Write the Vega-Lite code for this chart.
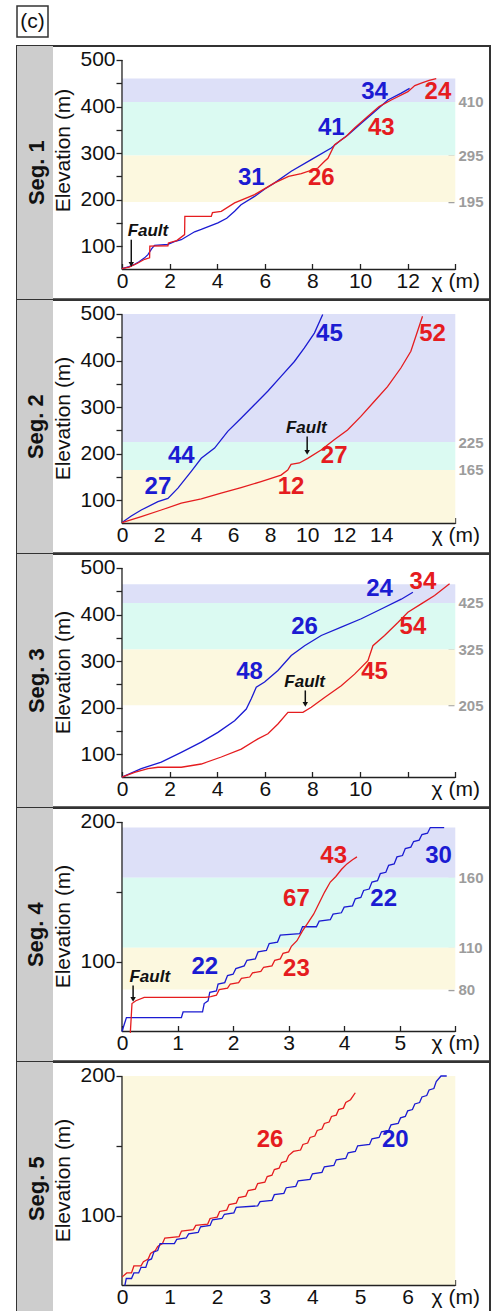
{
"$schema": "https://vega.github.io/schema/vega-lite/v6.json",
"padding": {"left": 16, "top": 5, "right": 0, "bottom": 0},
"config": {"view": {"stroke": null}, "font": "Liberation Sans", "text": {"font": "Liberation Sans"}},
"bounds": "flush",
"spacing": 9,
"datasets": {
"lines1": [
{"x":0.0,"y":52,"s":"A"},{"x":0.3,"y":56,"s":"A"},{"x":0.53,"y":61,"s":"A"},{"x":0.7,"y":66,"s":"A"},{"x":0.95,"y":75,"s":"A"},{"x":1.09,"y":82,"s":"A"},{"x":1.25,"y":95,"s":"A"},{"x":1.37,"y":102,"s":"A"},{"x":1.93,"y":104,"s":"A"},{"x":2.2,"y":110,"s":"A"},{"x":2.49,"y":114,"s":"A"},{"x":3.05,"y":131,"s":"A"},{"x":3.33,"y":136,"s":"A"},{"x":4.03,"y":150,"s":"A"},{"x":4.4,"y":160,"s":"A"},{"x":4.73,"y":175,"s":"A"},{"x":5.0,"y":189,"s":"A"},{"x":5.57,"y":207,"s":"A"},{"x":6.0,"y":223,"s":"A"},{"x":6.41,"y":236,"s":"A"},{"x":7.11,"y":261,"s":"A"},{"x":7.95,"y":286,"s":"A"},{"x":8.79,"y":311,"s":"A"},{"x":9.2,"y":328,"s":"A"},{"x":9.49,"y":339,"s":"A"},{"x":10.05,"y":364,"s":"A"},{"x":10.61,"y":389,"s":"A"},{"x":11.17,"y":414,"s":"A"},{"x":11.73,"y":429,"s":"A"},{"x":12.08,"y":439,"s":"A"},
{"x":0.0,"y":52,"s":"B"},{"x":0.3,"y":55,"s":"B"},{"x":0.67,"y":64,"s":"B"},{"x":0.95,"y":72,"s":"B"},{"x":1.16,"y":75,"s":"B"},{"x":1.17,"y":100,"s":"B"},{"x":1.93,"y":101,"s":"B"},{"x":1.95,"y":107,"s":"B"},{"x":2.3,"y":112,"s":"B"},{"x":2.63,"y":125,"s":"B"},{"x":2.64,"y":164,"s":"B"},{"x":3.75,"y":164,"s":"B"},{"x":3.8,"y":172,"s":"B"},{"x":4.17,"y":175,"s":"B"},{"x":4.73,"y":193,"s":"B"},{"x":5.57,"y":211,"s":"B"},{"x":6.41,"y":236,"s":"B"},{"x":7.0,"y":250,"s":"B"},{"x":7.53,"y":256,"s":"B"},{"x":8.23,"y":268,"s":"B"},{"x":8.5,"y":282,"s":"B"},{"x":8.65,"y":289,"s":"B"},{"x":8.93,"y":318,"s":"B"},{"x":9.4,"y":335,"s":"B"},{"x":9.77,"y":354,"s":"B"},{"x":10.33,"y":379,"s":"B"},{"x":10.8,"y":400,"s":"B"},{"x":11.31,"y":414,"s":"B"},{"x":12.01,"y":432,"s":"B"},{"x":12.3,"y":445,"s":"B"},{"x":12.6,"y":451,"s":"B"},{"x":12.9,"y":456,"s":"B"},{"x":13.2,"y":460,"s":"B"}],
"labels1": [{"x":10.61,"y":432,"t":"34","s":"A"},{"x":13.27,"y":432,"t":"24","s":"B"},{"x":8.79,"y":354,"t":"41","s":"A"},{"x":10.89,"y":354,"t":"43","s":"B"},{"x":5.43,"y":246,"t":"31","s":"A"},{"x":8.37,"y":246,"t":"26","s":"B"}],
"bands1": [{"lo":410,"hi":460,"zone":"upper"},{"lo":295,"hi":410,"zone":"middle"},{"lo":195,"hi":295,"zone":"lower"}],
"fault1": [{"tx":1.09,"ty":132,"ax":0.39,"ya":114,"yb":61}],
"lines2": [
{"x":0.0,"y":52,"s":"A"},{"x":0.5,"y":66,"s":"A"},{"x":1.04,"y":79,"s":"A"},{"x":1.94,"y":97,"s":"A"},{"x":2.48,"y":104,"s":"A"},{"x":3.02,"y":126,"s":"A"},{"x":3.74,"y":162,"s":"A"},{"x":4.28,"y":190,"s":"A"},{"x":5.0,"y":212,"s":"A"},{"x":5.71,"y":248,"s":"A"},{"x":6.43,"y":276,"s":"A"},{"x":7.15,"y":305,"s":"A"},{"x":7.87,"y":334,"s":"A"},{"x":8.59,"y":366,"s":"A"},{"x":9.31,"y":398,"s":"A"},{"x":9.85,"y":427,"s":"A"},{"x":10.39,"y":459,"s":"A"},{"x":10.84,"y":499,"s":"A"},
{"x":0.0,"y":52,"s":"B"},{"x":1.04,"y":65,"s":"B"},{"x":2.12,"y":79,"s":"B"},{"x":3.2,"y":94,"s":"B"},{"x":4.28,"y":103,"s":"B"},{"x":5.35,"y":115,"s":"B"},{"x":6.43,"y":127,"s":"B"},{"x":7.51,"y":140,"s":"B"},{"x":8.59,"y":154,"s":"B"},{"x":8.95,"y":165,"s":"B"},{"x":9.13,"y":177,"s":"B"},{"x":9.58,"y":180,"s":"B"},{"x":10.03,"y":190,"s":"B"},{"x":10.75,"y":208,"s":"B"},{"x":11.46,"y":230,"s":"B"},{"x":12.18,"y":251,"s":"B"},{"x":12.9,"y":280,"s":"B"},{"x":13.62,"y":312,"s":"B"},{"x":14.34,"y":344,"s":"B"},{"x":15.06,"y":384,"s":"B"},{"x":15.6,"y":420,"s":"B"},{"x":15.96,"y":463,"s":"B"},{"x":16.23,"y":495,"s":"B"}],
"labels2": [{"x":11.2,"y":456,"t":"45","s":"A"},{"x":16.77,"y":456,"t":"52","s":"B"},{"x":3.2,"y":194,"t":"44","s":"A"},{"x":1.94,"y":129,"t":"27","s":"A"},{"x":9.13,"y":129,"t":"12","s":"B"},{"x":11.46,"y":194,"t":"27","s":"B"}],
"bands2": [{"lo":225,"hi":500,"zone":"upper"},{"lo":165,"hi":225,"zone":"middle"},{"lo":50,"hi":165,"zone":"lower"}],
"fault2": [{"tx":9.95,"ty":255,"ax":10.0,"ya":237,"yb":203}],
"lines3": [
{"x":0.0,"y":51,"s":"A"},{"x":0.81,"y":69,"s":"A"},{"x":1.65,"y":83,"s":"A"},{"x":2.49,"y":104,"s":"A"},{"x":3.33,"y":126,"s":"A"},{"x":4.03,"y":147,"s":"A"},{"x":4.73,"y":172,"s":"A"},{"x":5.22,"y":197,"s":"A"},{"x":5.43,"y":219,"s":"A"},{"x":5.64,"y":244,"s":"A"},{"x":5.99,"y":255,"s":"A"},{"x":6.55,"y":280,"s":"A"},{"x":7.11,"y":312,"s":"A"},{"x":7.67,"y":333,"s":"A"},{"x":8.37,"y":355,"s":"A"},{"x":9.21,"y":373,"s":"A"},{"x":10.05,"y":391,"s":"A"},{"x":10.89,"y":412,"s":"A"},{"x":11.73,"y":433,"s":"A"},{"x":12.22,"y":448,"s":"A"},
{"x":0.0,"y":51,"s":"B"},{"x":0.53,"y":61,"s":"B"},{"x":1.09,"y":69,"s":"B"},{"x":1.51,"y":72,"s":"B"},{"x":2.49,"y":72,"s":"B"},{"x":3.33,"y":79,"s":"B"},{"x":4.17,"y":94,"s":"B"},{"x":5.01,"y":111,"s":"B"},{"x":5.71,"y":133,"s":"B"},{"x":6.13,"y":144,"s":"B"},{"x":6.55,"y":165,"s":"B"},{"x":6.97,"y":190,"s":"B"},{"x":7.6,"y":190,"s":"B"},{"x":7.95,"y":201,"s":"B"},{"x":8.51,"y":222,"s":"B"},{"x":9.21,"y":247,"s":"B"},{"x":9.77,"y":272,"s":"B"},{"x":10.33,"y":301,"s":"B"},{"x":10.54,"y":333,"s":"B"},{"x":11.03,"y":355,"s":"B"},{"x":11.59,"y":383,"s":"B"},{"x":12.01,"y":405,"s":"B"},{"x":12.57,"y":423,"s":"B"},{"x":13.13,"y":441,"s":"B"},{"x":13.76,"y":466,"s":"B"}],
"labels3": [{"x":10.82,"y":455,"t":"24","s":"A"},{"x":12.64,"y":469,"t":"34","s":"B"},{"x":7.67,"y":373,"t":"26","s":"A"},{"x":12.22,"y":373,"t":"54","s":"B"},{"x":5.36,"y":276,"t":"48","s":"A"},{"x":10.61,"y":276,"t":"45","s":"B"}],
"bands3": [{"lo":425,"hi":465,"zone":"upper"},{"lo":325,"hi":425,"zone":"middle"},{"lo":205,"hi":325,"zone":"lower"}],
"fault3": [{"tx":7.67,"ty":255,"ax":7.7,"ya":237,"yb":207}],
"lines4": [
{"x":0.0,"y":50,"s":"A"},{"x":0.04,"y":55,"s":"A"},{"x":0.08,"y":60,"s":"A"},{"x":1.07,"y":60,"s":"A"},{"x":1.1,"y":64,"s":"A"},{"x":1.45,"y":64,"s":"A"},{"x":1.48,"y":70,"s":"A"},{"x":1.55,"y":72,"s":"A"},{"x":1.58,"y":78,"s":"A"},{"x":1.7,"y":79,"s":"A"},{"x":1.73,"y":84,"s":"A"},{"x":1.85,"y":85,"s":"A"},{"x":1.9,"y":90,"s":"A"},{"x":2.0,"y":91,"s":"A"},{"x":2.05,"y":95,"s":"A"},{"x":2.2,"y":97,"s":"A"},{"x":2.25,"y":101,"s":"A"},{"x":2.4,"y":102,"s":"A"},{"x":2.45,"y":107,"s":"A"},{"x":2.6,"y":108,"s":"A"},{"x":2.65,"y":113,"s":"A"},{"x":2.8,"y":114,"s":"A"},{"x":2.85,"y":119,"s":"A"},{"x":3.2,"y":120,"s":"A"},{"x":3.25,"y":125,"s":"A"},{"x":3.5,"y":125,"s":"A"},{"x":3.55,"y":129,"s":"A"},{"x":3.75,"y":130,"s":"A"},{"x":3.8,"y":134,"s":"A"},{"x":3.95,"y":135,"s":"A"},{"x":4.0,"y":139,"s":"A"},{"x":4.15,"y":140,"s":"A"},{"x":4.2,"y":145,"s":"A"},{"x":4.3,"y":146,"s":"A"},{"x":4.35,"y":151,"s":"A"},{"x":4.45,"y":152,"s":"A"},{"x":4.5,"y":157,"s":"A"},{"x":4.6,"y":158,"s":"A"},{"x":4.65,"y":163,"s":"A"},{"x":4.75,"y":164,"s":"A"},{"x":4.8,"y":169,"s":"A"},{"x":4.9,"y":170,"s":"A"},{"x":4.95,"y":175,"s":"A"},{"x":5.05,"y":176,"s":"A"},{"x":5.1,"y":181,"s":"A"},{"x":5.2,"y":182,"s":"A"},{"x":5.25,"y":186,"s":"A"},{"x":5.35,"y":187,"s":"A"},{"x":5.4,"y":191,"s":"A"},{"x":5.5,"y":192,"s":"A"},{"x":5.55,"y":196,"s":"A"},{"x":5.8,"y":196,"s":"A"},
{"x":0.15,"y":49,"s":"B"},{"x":0.18,"y":70,"s":"B"},{"x":0.25,"y":72,"s":"B"},{"x":0.4,"y":74.5,"s":"B"},{"x":1.5,"y":74.5,"s":"B"},{"x":1.6,"y":75,"s":"B"},{"x":1.7,"y":76,"s":"B"},{"x":1.75,"y":80,"s":"B"},{"x":1.9,"y":81,"s":"B"},{"x":1.95,"y":84,"s":"B"},{"x":2.1,"y":85,"s":"B"},{"x":2.15,"y":88,"s":"B"},{"x":2.3,"y":89,"s":"B"},{"x":2.35,"y":92,"s":"B"},{"x":2.5,"y":93,"s":"B"},{"x":2.55,"y":96,"s":"B"},{"x":2.7,"y":97,"s":"B"},{"x":2.75,"y":101,"s":"B"},{"x":2.85,"y":102,"s":"B"},{"x":2.9,"y":106,"s":"B"},{"x":3.0,"y":107,"s":"B"},{"x":3.05,"y":111,"s":"B"},{"x":3.15,"y":115,"s":"B"},{"x":3.25,"y":122,"s":"B"},{"x":3.35,"y":128,"s":"B"},{"x":3.45,"y":134,"s":"B"},{"x":3.55,"y":142,"s":"B"},{"x":3.65,"y":150,"s":"B"},{"x":3.75,"y":157,"s":"B"},{"x":3.85,"y":161,"s":"B"},{"x":3.95,"y":166,"s":"B"},{"x":4.05,"y":170,"s":"B"},{"x":4.15,"y":173,"s":"B"},{"x":4.23,"y":175,"s":"B"}],
"labels4": [{"x":3.81,"y":176,"t":"43","s":"B"},{"x":5.7,"y":176,"t":"30","s":"A"},{"x":3.14,"y":145,"t":"67","s":"B"},{"x":4.71,"y":145,"t":"22","s":"A"},{"x":1.49,"y":96,"t":"22","s":"A"},{"x":3.14,"y":95,"t":"23","s":"B"}],
"bands4": [{"lo":160,"hi":196,"zone":"upper"},{"lo":110,"hi":160,"zone":"middle"},{"lo":80,"hi":110,"zone":"lower"}],
"fault4": [{"tx":0.5,"ty":89,"ax":0.2,"ya":83,"yb":73}],
"lines5": [
{"x":0.0,"y":56,"s":"B"},{"x":0.1,"y":59,"s":"B"},{"x":0.2,"y":59,"s":"B"},{"x":0.25,"y":64,"s":"B"},{"x":0.4,"y":64,"s":"B"},{"x":0.45,"y":67,"s":"B"},{"x":0.55,"y":69,"s":"B"},{"x":0.6,"y":73,"s":"B"},{"x":0.7,"y":75,"s":"B"},{"x":0.75,"y":78,"s":"B"},{"x":0.85,"y":80,"s":"B"},{"x":0.9,"y":84,"s":"B"},{"x":1.2,"y":85,"s":"B"},{"x":1.25,"y":89,"s":"B"},{"x":1.5,"y":90,"s":"B"},{"x":1.55,"y":93,"s":"B"},{"x":1.8,"y":94,"s":"B"},{"x":1.85,"y":98,"s":"B"},{"x":2.0,"y":99,"s":"B"},{"x":2.05,"y":103,"s":"B"},{"x":2.2,"y":104,"s":"B"},{"x":2.25,"y":108,"s":"B"},{"x":2.4,"y":109,"s":"B"},{"x":2.45,"y":113,"s":"B"},{"x":2.6,"y":114,"s":"B"},{"x":2.65,"y":118,"s":"B"},{"x":2.8,"y":119,"s":"B"},{"x":2.85,"y":123,"s":"B"},{"x":3.0,"y":124,"s":"B"},{"x":3.05,"y":128,"s":"B"},{"x":3.15,"y":129,"s":"B"},{"x":3.2,"y":133,"s":"B"},{"x":3.3,"y":134,"s":"B"},{"x":3.35,"y":138,"s":"B"},{"x":3.45,"y":139,"s":"B"},{"x":3.5,"y":143,"s":"B"},{"x":3.6,"y":146,"s":"B"},{"x":3.75,"y":147,"s":"B"},{"x":3.8,"y":151,"s":"B"},{"x":3.9,"y":152,"s":"B"},{"x":3.95,"y":156,"s":"B"},{"x":4.05,"y":157,"s":"B"},{"x":4.1,"y":161,"s":"B"},{"x":4.2,"y":162,"s":"B"},{"x":4.25,"y":166,"s":"B"},{"x":4.35,"y":167,"s":"B"},{"x":4.4,"y":171,"s":"B"},{"x":4.5,"y":172,"s":"B"},{"x":4.55,"y":176,"s":"B"},{"x":4.65,"y":177,"s":"B"},{"x":4.7,"y":181,"s":"B"},{"x":4.8,"y":183,"s":"B"},{"x":4.9,"y":188,"s":"B"},
{"x":0.06,"y":50,"s":"A"},{"x":0.09,"y":55,"s":"A"},{"x":0.2,"y":55,"s":"A"},{"x":0.25,"y":59,"s":"A"},{"x":0.35,"y":59,"s":"A"},{"x":0.4,"y":63,"s":"A"},{"x":0.5,"y":63,"s":"A"},{"x":0.55,"y":68,"s":"A"},{"x":0.62,"y":69,"s":"A"},{"x":0.67,"y":74,"s":"A"},{"x":0.75,"y":75,"s":"A"},{"x":0.8,"y":80,"s":"A"},{"x":1.1,"y":80,"s":"A"},{"x":1.15,"y":83,"s":"A"},{"x":1.35,"y":84,"s":"A"},{"x":1.4,"y":87,"s":"A"},{"x":1.6,"y":88,"s":"A"},{"x":1.65,"y":92,"s":"A"},{"x":1.85,"y":93,"s":"A"},{"x":1.9,"y":97,"s":"A"},{"x":2.1,"y":98,"s":"A"},{"x":2.15,"y":101,"s":"A"},{"x":2.35,"y":102,"s":"A"},{"x":2.4,"y":106,"s":"A"},{"x":2.85,"y":107,"s":"A"},{"x":2.9,"y":110,"s":"A"},{"x":3.15,"y":111,"s":"A"},{"x":3.2,"y":115,"s":"A"},{"x":3.4,"y":116,"s":"A"},{"x":3.45,"y":120,"s":"A"},{"x":3.65,"y":121,"s":"A"},{"x":3.7,"y":125,"s":"A"},{"x":3.95,"y":126,"s":"A"},{"x":4.0,"y":130,"s":"A"},{"x":4.2,"y":131,"s":"A"},{"x":4.25,"y":135,"s":"A"},{"x":4.45,"y":136,"s":"A"},{"x":4.5,"y":140,"s":"A"},{"x":4.7,"y":141,"s":"A"},{"x":4.75,"y":145,"s":"A"},{"x":4.9,"y":146,"s":"A"},{"x":4.95,"y":150,"s":"A"},{"x":5.2,"y":151,"s":"A"},{"x":5.25,"y":155,"s":"A"},{"x":5.4,"y":156,"s":"A"},{"x":5.45,"y":160,"s":"A"},{"x":5.6,"y":161,"s":"A"},{"x":5.65,"y":165,"s":"A"},{"x":5.8,"y":166,"s":"A"},{"x":5.85,"y":170,"s":"A"},{"x":5.95,"y":171,"s":"A"},{"x":6.0,"y":175,"s":"A"},{"x":6.1,"y":176,"s":"A"},{"x":6.15,"y":180,"s":"A"},{"x":6.25,"y":181,"s":"A"},{"x":6.3,"y":185,"s":"A"},{"x":6.4,"y":186,"s":"A"},{"x":6.45,"y":190,"s":"A"},{"x":6.55,"y":191,"s":"A"},{"x":6.6,"y":196,"s":"A"},{"x":6.7,"y":200,"s":"A"},{"x":6.82,"y":200,"s":"A"}],
"labels5": [{"x":3.11,"y":154,"t":"26","s":"B"},{"x":5.74,"y":154,"t":"20","s":"A"}],
"bands5": [{"lo":50,"hi":200,"zone":"lower"}]
},
"vconcat": [
{"width": 31, "height": 31, "view": {"stroke": "#333", "strokeWidth": 1.5},
 "data": {"values": [{"t": "(c)"}]},
 "mark": {"type": "text", "fontSize": 21, "font": "Liberation Sans", "color": "#111"},
 "encoding": {"text": {"field": "t"}}},
{"vconcat": [
{"width": 473, "height": 253.3, "view": {"stroke": "#333", "strokeWidth": 2},
 "resolve": {"axis": {"y": "independent", "x": "independent"}},
 "layer": [
  {"data": {"values": [{"seg": "Seg. 1"}]}, "mark": {"type": "rect", "color": "#cdcdcd"},
   "encoding": {"x": {"datum": -4.41, "type": "quantitative", "scale": {"domain": [-4.41, 15.458], "nice": false, "zero": false}, "axis": null}, "x2": {"datum": -2.898},
    "y": {"datum": -14.01, "type": "quantitative", "scale": {"domain": [-14.01, 530.07], "nice": false, "zero": false}, "axis": null}, "y2": {"datum": 530.07}}},
  {"data": {"values": [{"seg": "Seg. 1"}]}, "mark": {"type": "text", "angle": 270, "fontSize": 22, "fontWeight": "bold", "color": "#111", "align": "center", "baseline": "middle"},
   "encoding": {"x": {"datum": -3.59, "type": "quantitative", "scale": {"domain": [-4.41, 15.458], "nice": false, "zero": false}, "axis": null},
    "y": {"datum": 258.03, "type": "quantitative", "scale": {"domain": [-14.01, 530.07], "nice": false, "zero": false}, "axis": null}, "text": {"field": "seg"}}},
  {"data": {"name": "bands1"}, "mark": "rect",
   "encoding": {"x": {"datum": 0, "type": "quantitative", "scale": {"domain": [-4.41, 15.458], "nice": false, "zero": false}, "axis": null}, "x2": {"datum": 14},
    "y": {"field": "lo", "type": "quantitative", "scale": {"domain": [-14.01, 530.07], "nice": false, "zero": false},
     "axis": {"orient": "right", "offset": -42, "values": [195, 295, 410], "domain": false, "grid": false, "tickSize": 6, "tickColor": "#a0a0a0", "tickWidth": 1.5, "labelColor": "#9c9c9c", "labelFontSize": 15, "labelFontWeight": "bold", "labelPadding": 4, "title": null}},
    "y2": {"field": "hi"},
    "fill": {"field": "zone", "type": "nominal", "scale": {"domain": ["upper", "middle", "lower"], "range": ["#dde0f8", "#dbfaf2", "#fcf8df"]}, "legend": null}}},
  {"data": {"values": [{"a": 1}]}, "mark": {"type": "rule", "color": "#222", "strokeWidth": 1.3},
   "encoding": {"x": {"datum": 0, "type": "quantitative", "scale": {"domain": [-4.41, 15.458], "nice": false, "zero": false},
     "axis": {"orient": "bottom", "offset": -29.8, "values": [0, 2, 4, 6, 8, 10, 12, 14], "labelExpr": "datum.value === 14 ? 'χ (m)' : datum.label", "domain": false, "grid": false, "tickSize": -6, "tickColor": "#222", "tickWidth": 1.3, "labelPadding": 7, "labelFontSize": 21, "labelColor": "#111", "labelOverlap": false, "labelBound": false, "labelFlush": false, "title": null}},
    "x2": {"datum": 14},
    "y": {"datum": 50, "type": "quantitative", "scale": {"domain": [-14.01, 530.07], "nice": false, "zero": false}, "axis": null}}},
  {"data": {"values": [{"a": 1}]}, "mark": {"type": "rule", "color": "#222", "strokeWidth": 1.3},
   "encoding": {"x": {"datum": 0, "type": "quantitative", "scale": {"domain": [-4.41, 15.458], "nice": false, "zero": false}, "axis": null},
    "y": {"datum": 50, "type": "quantitative", "scale": {"domain": [-14.01, 530.07], "nice": false, "zero": false},
     "axis": {"orient": "left", "offset": -105, "values": [100, 150, 200, 250, 300, 350, 400, 450, 500], "labelExpr": "datum.value % 100 === 0 ? datum.label : ''", "domain": false, "grid": false, "tickSize": 6, "tickColor": "#222", "tickWidth": 1.3, "labelPadding": 1, "labelFontSize": 21, "labelColor": "#111", "labelOverlap": false, "labelBound": false, "labelFlush": false, "title": "Elevation (m)", "titleFontSize": 21, "titleFontWeight": "normal", "titleColor": "#111", "titlePadding": 6, "titleY": 104}},
    "y2": {"datum": 500}}},
  {"data": {"name": "lines1"}, "mark": {"type": "line", "strokeWidth": 1.3},
   "encoding": {"x": {"field": "x", "type": "quantitative", "scale": {"domain": [-4.41, 15.458], "nice": false, "zero": false}, "axis": null},
    "y": {"field": "y", "type": "quantitative", "scale": {"domain": [-14.01, 530.07], "nice": false, "zero": false}, "axis": null},
    "color": {"field": "s", "type": "nominal", "scale": {"domain": ["A", "B"], "range": ["#1b1bd2", "#e51c1f"]}, "legend": null}}},
  {"data": {"name": "labels1"}, "mark": {"type": "text", "fontSize": 24, "fontWeight": "bold", "align": "center", "baseline": "middle"},
   "encoding": {"x": {"field": "x", "type": "quantitative", "scale": {"domain": [-4.41, 15.458], "nice": false, "zero": false}, "axis": null},
    "y": {"field": "y", "type": "quantitative", "scale": {"domain": [-14.01, 530.07], "nice": false, "zero": false}, "axis": null},
    "text": {"field": "t"},
    "color": {"field": "s", "type": "nominal", "scale": {"domain": ["A", "B"], "range": ["#1b1bd2", "#e51c1f"]}, "legend": null}}},
  {"data": {"name": "fault1"}, "mark": {"type": "text", "text": "Fault", "fontSize": 17, "fontWeight": "bold", "fontStyle": "italic", "color": "#111", "align": "center", "baseline": "middle"},
   "encoding": {"x": {"field": "tx", "type": "quantitative", "scale": {"domain": [-4.41, 15.458], "nice": false, "zero": false}, "axis": null},
    "y": {"field": "ty", "type": "quantitative", "scale": {"domain": [-14.01, 530.07], "nice": false, "zero": false}, "axis": null}}},
  {"data": {"name": "fault1"}, "mark": {"type": "rule", "color": "#111", "strokeWidth": 1.5},
   "encoding": {"x": {"field": "ax", "type": "quantitative", "scale": {"domain": [-4.41, 15.458], "nice": false, "zero": false}, "axis": null},
    "y": {"field": "ya", "type": "quantitative", "scale": {"domain": [-14.01, 530.07], "nice": false, "zero": false}, "axis": null}, "y2": {"field": "yb"}}},
  {"data": {"name": "fault1"}, "mark": {"type": "point", "shape": "triangle-down", "filled": true, "size": 30, "color": "#111", "opacity": 1},
   "encoding": {"x": {"field": "ax", "type": "quantitative", "scale": {"domain": [-4.41, 15.458], "nice": false, "zero": false}, "axis": null},
    "y": {"field": "yb", "type": "quantitative", "scale": {"domain": [-14.01, 530.07], "nice": false, "zero": false}, "axis": null}}}
 ]},
{"width": 473, "height": 253.3, "view": {"stroke": "#333", "strokeWidth": 2},
 "resolve": {"axis": {"y": "independent", "x": "independent"}},
 "layer": [
  {"data": {"values": [{"seg": "Seg. 2"}]}, "mark": {"type": "rect", "color": "#cdcdcd"},
   "encoding": {"x": {"datum": -5.671, "type": "quantitative", "scale": {"domain": [-5.671, 19.874], "nice": false, "zero": false}, "axis": null}, "x2": {"datum": -3.727},
    "y": {"datum": -14.01, "type": "quantitative", "scale": {"domain": [-14.01, 530.07], "nice": false, "zero": false}, "axis": null}, "y2": {"datum": 530.07}}},
  {"data": {"values": [{"seg": "Seg. 2"}]}, "mark": {"type": "text", "angle": 270, "fontSize": 22, "fontWeight": "bold", "color": "#111", "align": "center", "baseline": "middle"},
   "encoding": {"x": {"datum": -4.618, "type": "quantitative", "scale": {"domain": [-5.671, 19.874], "nice": false, "zero": false}, "axis": null},
    "y": {"datum": 258.03, "type": "quantitative", "scale": {"domain": [-14.01, 530.07], "nice": false, "zero": false}, "axis": null}, "text": {"field": "seg"}}},
  {"data": {"name": "bands2"}, "mark": "rect",
   "encoding": {"x": {"datum": 0, "type": "quantitative", "scale": {"domain": [-5.671, 19.874], "nice": false, "zero": false}, "axis": null}, "x2": {"datum": 18},
    "y": {"field": "lo", "type": "quantitative", "scale": {"domain": [-14.01, 530.07], "nice": false, "zero": false},
     "axis": {"orient": "right", "offset": -42, "values": [165, 225], "domain": false, "grid": false, "tickSize": 6, "tickColor": "#a0a0a0", "tickWidth": 1.5, "labelColor": "#9c9c9c", "labelFontSize": 15, "labelFontWeight": "bold", "labelPadding": 4, "title": null}},
    "y2": {"field": "hi"},
    "fill": {"field": "zone", "type": "nominal", "scale": {"domain": ["upper", "middle", "lower"], "range": ["#dde0f8", "#dbfaf2", "#fcf8df"]}, "legend": null}}},
  {"data": {"values": [{"a": 1}]}, "mark": {"type": "rule", "color": "#222", "strokeWidth": 1.3},
   "encoding": {"x": {"datum": 0, "type": "quantitative", "scale": {"domain": [-5.671, 19.874], "nice": false, "zero": false},
     "axis": {"orient": "bottom", "offset": -29.8, "values": [0, 2, 4, 6, 8, 10, 12, 14, 16, 18], "labelExpr": "datum.value === 18 ? 'χ (m)' : (datum.value === 16 ? '' : datum.label)", "domain": false, "grid": false, "tickSize": -6, "tickColor": "#222", "tickWidth": 1.3, "labelPadding": 7, "labelFontSize": 21, "labelColor": "#111", "labelOverlap": false, "labelBound": false, "labelFlush": false, "title": null}},
    "x2": {"datum": 18},
    "y": {"datum": 50, "type": "quantitative", "scale": {"domain": [-14.01, 530.07], "nice": false, "zero": false}, "axis": null}}},
  {"data": {"values": [{"a": 1}]}, "mark": {"type": "rule", "color": "#222", "strokeWidth": 1.3},
   "encoding": {"x": {"datum": 0, "type": "quantitative", "scale": {"domain": [-5.671, 19.874], "nice": false, "zero": false}, "axis": null},
    "y": {"datum": 50, "type": "quantitative", "scale": {"domain": [-14.01, 530.07], "nice": false, "zero": false},
     "axis": {"orient": "left", "offset": -105, "values": [100, 150, 200, 250, 300, 350, 400, 450, 500], "labelExpr": "datum.value % 100 === 0 ? datum.label : ''", "domain": false, "grid": false, "tickSize": 6, "tickColor": "#222", "tickWidth": 1.3, "labelPadding": 1, "labelFontSize": 21, "labelColor": "#111", "labelOverlap": false, "labelBound": false, "labelFlush": false, "title": "Elevation (m)", "titleFontSize": 21, "titleFontWeight": "normal", "titleColor": "#111", "titlePadding": 6, "titleY": 118}},
    "y2": {"datum": 500}}},
  {"data": {"name": "lines2"}, "mark": {"type": "line", "strokeWidth": 1.3},
   "encoding": {"x": {"field": "x", "type": "quantitative", "scale": {"domain": [-5.671, 19.874], "nice": false, "zero": false}, "axis": null},
    "y": {"field": "y", "type": "quantitative", "scale": {"domain": [-14.01, 530.07], "nice": false, "zero": false}, "axis": null},
    "color": {"field": "s", "type": "nominal", "scale": {"domain": ["A", "B"], "range": ["#1b1bd2", "#e51c1f"]}, "legend": null}}},
  {"data": {"name": "labels2"}, "mark": {"type": "text", "fontSize": 24, "fontWeight": "bold", "align": "center", "baseline": "middle"},
   "encoding": {"x": {"field": "x", "type": "quantitative", "scale": {"domain": [-5.671, 19.874], "nice": false, "zero": false}, "axis": null},
    "y": {"field": "y", "type": "quantitative", "scale": {"domain": [-14.01, 530.07], "nice": false, "zero": false}, "axis": null},
    "text": {"field": "t"},
    "color": {"field": "s", "type": "nominal", "scale": {"domain": ["A", "B"], "range": ["#1b1bd2", "#e51c1f"]}, "legend": null}}},
  {"data": {"name": "fault2"}, "mark": {"type": "text", "text": "Fault", "fontSize": 17, "fontWeight": "bold", "fontStyle": "italic", "color": "#111", "align": "center", "baseline": "middle"},
   "encoding": {"x": {"field": "tx", "type": "quantitative", "scale": {"domain": [-5.671, 19.874], "nice": false, "zero": false}, "axis": null},
    "y": {"field": "ty", "type": "quantitative", "scale": {"domain": [-14.01, 530.07], "nice": false, "zero": false}, "axis": null}}},
  {"data": {"name": "fault2"}, "mark": {"type": "rule", "color": "#111", "strokeWidth": 1.5},
   "encoding": {"x": {"field": "ax", "type": "quantitative", "scale": {"domain": [-5.671, 19.874], "nice": false, "zero": false}, "axis": null},
    "y": {"field": "ya", "type": "quantitative", "scale": {"domain": [-14.01, 530.07], "nice": false, "zero": false}, "axis": null}, "y2": {"field": "yb"}}},
  {"data": {"name": "fault2"}, "mark": {"type": "point", "shape": "triangle-down", "filled": true, "size": 30, "color": "#111", "opacity": 1},
   "encoding": {"x": {"field": "ax", "type": "quantitative", "scale": {"domain": [-5.671, 19.874], "nice": false, "zero": false}, "axis": null},
    "y": {"field": "yb", "type": "quantitative", "scale": {"domain": [-14.01, 530.07], "nice": false, "zero": false}, "axis": null}}}
 ]},
{"width": 473, "height": 253.3, "view": {"stroke": "#333", "strokeWidth": 2},
 "resolve": {"axis": {"y": "independent", "x": "independent"}},
 "layer": [
  {"data": {"values": [{"seg": "Seg. 3"}]}, "mark": {"type": "rect", "color": "#cdcdcd"},
   "encoding": {"x": {"datum": -4.41, "type": "quantitative", "scale": {"domain": [-4.41, 15.458], "nice": false, "zero": false}, "axis": null}, "x2": {"datum": -2.898},
    "y": {"datum": -14.01, "type": "quantitative", "scale": {"domain": [-14.01, 530.07], "nice": false, "zero": false}, "axis": null}, "y2": {"datum": 530.07}}},
  {"data": {"values": [{"seg": "Seg. 3"}]}, "mark": {"type": "text", "angle": 270, "fontSize": 22, "fontWeight": "bold", "color": "#111", "align": "center", "baseline": "middle"},
   "encoding": {"x": {"datum": -3.59, "type": "quantitative", "scale": {"domain": [-4.41, 15.458], "nice": false, "zero": false}, "axis": null},
    "y": {"datum": 258.03, "type": "quantitative", "scale": {"domain": [-14.01, 530.07], "nice": false, "zero": false}, "axis": null}, "text": {"field": "seg"}}},
  {"data": {"name": "bands3"}, "mark": "rect",
   "encoding": {"x": {"datum": 0, "type": "quantitative", "scale": {"domain": [-4.41, 15.458], "nice": false, "zero": false}, "axis": null}, "x2": {"datum": 14},
    "y": {"field": "lo", "type": "quantitative", "scale": {"domain": [-14.01, 530.07], "nice": false, "zero": false},
     "axis": {"orient": "right", "offset": -42, "values": [205, 325, 425], "domain": false, "grid": false, "tickSize": 6, "tickColor": "#a0a0a0", "tickWidth": 1.5, "labelColor": "#9c9c9c", "labelFontSize": 15, "labelFontWeight": "bold", "labelPadding": 4, "title": null}},
    "y2": {"field": "hi"},
    "fill": {"field": "zone", "type": "nominal", "scale": {"domain": ["upper", "middle", "lower"], "range": ["#dde0f8", "#dbfaf2", "#fcf8df"]}, "legend": null}}},
  {"data": {"values": [{"a": 1}]}, "mark": {"type": "rule", "color": "#222", "strokeWidth": 1.3},
   "encoding": {"x": {"datum": 0, "type": "quantitative", "scale": {"domain": [-4.41, 15.458], "nice": false, "zero": false},
     "axis": {"orient": "bottom", "offset": -29.8, "values": [0, 2, 4, 6, 8, 10, 12, 14], "labelExpr": "datum.value === 14 ? 'χ (m)' : (datum.value === 12 ? '' : datum.label)", "domain": false, "grid": false, "tickSize": -6, "tickColor": "#222", "tickWidth": 1.3, "labelPadding": 7, "labelFontSize": 21, "labelColor": "#111", "labelOverlap": false, "labelBound": false, "labelFlush": false, "title": null}},
    "x2": {"datum": 14},
    "y": {"datum": 50, "type": "quantitative", "scale": {"domain": [-14.01, 530.07], "nice": false, "zero": false}, "axis": null}}},
  {"data": {"values": [{"a": 1}]}, "mark": {"type": "rule", "color": "#222", "strokeWidth": 1.3},
   "encoding": {"x": {"datum": 0, "type": "quantitative", "scale": {"domain": [-4.41, 15.458], "nice": false, "zero": false}, "axis": null},
    "y": {"datum": 50, "type": "quantitative", "scale": {"domain": [-14.01, 530.07], "nice": false, "zero": false},
     "axis": {"orient": "left", "offset": -105, "values": [100, 150, 200, 250, 300, 350, 400, 450, 500], "labelExpr": "datum.value % 100 === 0 ? datum.label : ''", "domain": false, "grid": false, "tickSize": 6, "tickColor": "#222", "tickWidth": 1.3, "labelPadding": 1, "labelFontSize": 21, "labelColor": "#111", "labelOverlap": false, "labelBound": false, "labelFlush": false, "title": "Elevation (m)", "titleFontSize": 21, "titleFontWeight": "normal", "titleColor": "#111", "titlePadding": 6, "titleY": 118}},
    "y2": {"datum": 500}}},
  {"data": {"name": "lines3"}, "mark": {"type": "line", "strokeWidth": 1.3},
   "encoding": {"x": {"field": "x", "type": "quantitative", "scale": {"domain": [-4.41, 15.458], "nice": false, "zero": false}, "axis": null},
    "y": {"field": "y", "type": "quantitative", "scale": {"domain": [-14.01, 530.07], "nice": false, "zero": false}, "axis": null},
    "color": {"field": "s", "type": "nominal", "scale": {"domain": ["A", "B"], "range": ["#1b1bd2", "#e51c1f"]}, "legend": null}}},
  {"data": {"name": "labels3"}, "mark": {"type": "text", "fontSize": 24, "fontWeight": "bold", "align": "center", "baseline": "middle"},
   "encoding": {"x": {"field": "x", "type": "quantitative", "scale": {"domain": [-4.41, 15.458], "nice": false, "zero": false}, "axis": null},
    "y": {"field": "y", "type": "quantitative", "scale": {"domain": [-14.01, 530.07], "nice": false, "zero": false}, "axis": null},
    "text": {"field": "t"},
    "color": {"field": "s", "type": "nominal", "scale": {"domain": ["A", "B"], "range": ["#1b1bd2", "#e51c1f"]}, "legend": null}}},
  {"data": {"name": "fault3"}, "mark": {"type": "text", "text": "Fault", "fontSize": 17, "fontWeight": "bold", "fontStyle": "italic", "color": "#111", "align": "center", "baseline": "middle"},
   "encoding": {"x": {"field": "tx", "type": "quantitative", "scale": {"domain": [-4.41, 15.458], "nice": false, "zero": false}, "axis": null},
    "y": {"field": "ty", "type": "quantitative", "scale": {"domain": [-14.01, 530.07], "nice": false, "zero": false}, "axis": null}}},
  {"data": {"name": "fault3"}, "mark": {"type": "rule", "color": "#111", "strokeWidth": 1.5},
   "encoding": {"x": {"field": "ax", "type": "quantitative", "scale": {"domain": [-4.41, 15.458], "nice": false, "zero": false}, "axis": null},
    "y": {"field": "ya", "type": "quantitative", "scale": {"domain": [-14.01, 530.07], "nice": false, "zero": false}, "axis": null}, "y2": {"field": "yb"}}},
  {"data": {"name": "fault3"}, "mark": {"type": "point", "shape": "triangle-down", "filled": true, "size": 30, "color": "#111", "opacity": 1},
   "encoding": {"x": {"field": "ax", "type": "quantitative", "scale": {"domain": [-4.41, 15.458], "nice": false, "zero": false}, "axis": null},
    "y": {"field": "yb", "type": "quantitative", "scale": {"domain": [-14.01, 530.07], "nice": false, "zero": false}, "axis": null}}}
 ]},
{"width": 473, "height": 253.3, "view": {"stroke": "#333", "strokeWidth": 2},
 "resolve": {"axis": {"y": "independent", "x": "independent"}},
 "layer": [
  {"data": {"values": [{"seg": "Seg. 4"}]}, "mark": {"type": "rect", "color": "#cdcdcd"},
   "encoding": {"x": {"datum": -1.89, "type": "quantitative", "scale": {"domain": [-1.89, 6.625], "nice": false, "zero": false}, "axis": null}, "x2": {"datum": -1.242},
    "y": {"datum": 28.66, "type": "quantitative", "scale": {"domain": [28.66, 210.02], "nice": false, "zero": false}, "axis": null}, "y2": {"datum": 210.02}}},
  {"data": {"values": [{"seg": "Seg. 4"}]}, "mark": {"type": "text", "angle": 270, "fontSize": 22, "fontWeight": "bold", "color": "#111", "align": "center", "baseline": "middle"},
   "encoding": {"x": {"datum": -1.539, "type": "quantitative", "scale": {"domain": [-1.89, 6.625], "nice": false, "zero": false}, "axis": null},
    "y": {"datum": 119.34, "type": "quantitative", "scale": {"domain": [28.66, 210.02], "nice": false, "zero": false}, "axis": null}, "text": {"field": "seg"}}},
  {"data": {"name": "bands4"}, "mark": "rect",
   "encoding": {"x": {"datum": 0, "type": "quantitative", "scale": {"domain": [-1.89, 6.625], "nice": false, "zero": false}, "axis": null}, "x2": {"datum": 6},
    "y": {"field": "lo", "type": "quantitative", "scale": {"domain": [28.66, 210.02], "nice": false, "zero": false},
     "axis": {"orient": "right", "offset": -42, "values": [80, 110, 160], "domain": false, "grid": false, "tickSize": 6, "tickColor": "#a0a0a0", "tickWidth": 1.5, "labelColor": "#9c9c9c", "labelFontSize": 15, "labelFontWeight": "bold", "labelPadding": 4, "title": null}},
    "y2": {"field": "hi"},
    "fill": {"field": "zone", "type": "nominal", "scale": {"domain": ["upper", "middle", "lower"], "range": ["#dde0f8", "#dbfaf2", "#fcf8df"]}, "legend": null}}},
  {"data": {"values": [{"a": 1}]}, "mark": {"type": "rule", "color": "#222", "strokeWidth": 1.3},
   "encoding": {"x": {"datum": 0, "type": "quantitative", "scale": {"domain": [-1.89, 6.625], "nice": false, "zero": false},
     "axis": {"orient": "bottom", "offset": -29.8, "values": [0, 1, 2, 3, 4, 5, 6], "labelExpr": "datum.value === 6 ? 'χ (m)' : datum.label", "domain": false, "grid": false, "tickSize": -6, "tickColor": "#222", "tickWidth": 1.3, "labelPadding": 7, "labelFontSize": 21, "labelColor": "#111", "labelOverlap": false, "labelBound": false, "labelFlush": false, "title": null}},
    "x2": {"datum": 6},
    "y": {"datum": 50, "type": "quantitative", "scale": {"domain": [28.66, 210.02], "nice": false, "zero": false}, "axis": null}}},
  {"data": {"values": [{"a": 1}]}, "mark": {"type": "rule", "color": "#222", "strokeWidth": 1.3},
   "encoding": {"x": {"datum": 0, "type": "quantitative", "scale": {"domain": [-1.89, 6.625], "nice": false, "zero": false}, "axis": null},
    "y": {"datum": 50, "type": "quantitative", "scale": {"domain": [28.66, 210.02], "nice": false, "zero": false},
     "axis": {"orient": "left", "offset": -105, "values": [100, 150, 200], "labelExpr": "datum.value % 100 === 0 ? datum.label : ''", "domain": false, "grid": false, "tickSize": 6, "tickColor": "#222", "tickWidth": 1.3, "labelPadding": 1, "labelFontSize": 21, "labelColor": "#111", "labelOverlap": false, "labelBound": false, "labelFlush": false, "title": "Elevation (m)", "titleFontSize": 21, "titleFontWeight": "normal", "titleColor": "#111", "titlePadding": 6, "titleY": 118}},
    "y2": {"datum": 200}}},
  {"data": {"name": "lines4"}, "mark": {"type": "line", "strokeWidth": 1.3},
   "encoding": {"x": {"field": "x", "type": "quantitative", "scale": {"domain": [-1.89, 6.625], "nice": false, "zero": false}, "axis": null},
    "y": {"field": "y", "type": "quantitative", "scale": {"domain": [28.66, 210.02], "nice": false, "zero": false}, "axis": null},
    "color": {"field": "s", "type": "nominal", "scale": {"domain": ["A", "B"], "range": ["#1b1bd2", "#e51c1f"]}, "legend": null}}},
  {"data": {"name": "labels4"}, "mark": {"type": "text", "fontSize": 24, "fontWeight": "bold", "align": "center", "baseline": "middle"},
   "encoding": {"x": {"field": "x", "type": "quantitative", "scale": {"domain": [-1.89, 6.625], "nice": false, "zero": false}, "axis": null},
    "y": {"field": "y", "type": "quantitative", "scale": {"domain": [28.66, 210.02], "nice": false, "zero": false}, "axis": null},
    "text": {"field": "t"},
    "color": {"field": "s", "type": "nominal", "scale": {"domain": ["A", "B"], "range": ["#1b1bd2", "#e51c1f"]}, "legend": null}}},
  {"data": {"name": "fault4"}, "mark": {"type": "text", "text": "Fault", "fontSize": 17, "fontWeight": "bold", "fontStyle": "italic", "color": "#111", "align": "center", "baseline": "middle"},
   "encoding": {"x": {"field": "tx", "type": "quantitative", "scale": {"domain": [-1.89, 6.625], "nice": false, "zero": false}, "axis": null},
    "y": {"field": "ty", "type": "quantitative", "scale": {"domain": [28.66, 210.02], "nice": false, "zero": false}, "axis": null}}},
  {"data": {"name": "fault4"}, "mark": {"type": "rule", "color": "#111", "strokeWidth": 1.5},
   "encoding": {"x": {"field": "ax", "type": "quantitative", "scale": {"domain": [-1.89, 6.625], "nice": false, "zero": false}, "axis": null},
    "y": {"field": "ya", "type": "quantitative", "scale": {"domain": [28.66, 210.02], "nice": false, "zero": false}, "axis": null}, "y2": {"field": "yb"}}},
  {"data": {"name": "fault4"}, "mark": {"type": "point", "shape": "triangle-down", "filled": true, "size": 30, "color": "#111", "opacity": 1},
   "encoding": {"x": {"field": "ax", "type": "quantitative", "scale": {"domain": [-1.89, 6.625], "nice": false, "zero": false}, "axis": null},
    "y": {"field": "yb", "type": "quantitative", "scale": {"domain": [28.66, 210.02], "nice": false, "zero": false}, "axis": null}}}
 ]},
{"width": 473, "height": 253.3, "view": {"stroke": "#333", "strokeWidth": 2},
 "resolve": {"axis": {"y": "independent", "x": "independent"}},
 "layer": [
  {"data": {"values": [{"seg": "Seg. 5"}]}, "mark": {"type": "rect", "color": "#cdcdcd"},
   "encoding": {"x": {"datum": -2.205, "type": "quantitative", "scale": {"domain": [-2.205, 7.729], "nice": false, "zero": false}, "axis": null}, "x2": {"datum": -1.449},
    "y": {"datum": 28.66, "type": "quantitative", "scale": {"domain": [28.66, 210.02], "nice": false, "zero": false}, "axis": null}, "y2": {"datum": 210.02}}},
  {"data": {"values": [{"seg": "Seg. 5"}]}, "mark": {"type": "text", "angle": 270, "fontSize": 22, "fontWeight": "bold", "color": "#111", "align": "center", "baseline": "middle"},
   "encoding": {"x": {"datum": -1.795, "type": "quantitative", "scale": {"domain": [-2.205, 7.729], "nice": false, "zero": false}, "axis": null},
    "y": {"datum": 119.34, "type": "quantitative", "scale": {"domain": [28.66, 210.02], "nice": false, "zero": false}, "axis": null}, "text": {"field": "seg"}}},
  {"data": {"name": "bands5"}, "mark": "rect",
   "encoding": {"x": {"datum": 0, "type": "quantitative", "scale": {"domain": [-2.205, 7.729], "nice": false, "zero": false}, "axis": null}, "x2": {"datum": 7},
    "y": {"field": "lo", "type": "quantitative", "scale": {"domain": [28.66, 210.02], "nice": false, "zero": false}, "axis": null},
    "y2": {"field": "hi"},
    "fill": {"field": "zone", "type": "nominal", "scale": {"domain": ["upper", "middle", "lower"], "range": ["#dde0f8", "#dbfaf2", "#fcf8df"]}, "legend": null}}},
  {"data": {"values": [{"a": 1}]}, "mark": {"type": "rule", "color": "#222", "strokeWidth": 1.3},
   "encoding": {"x": {"datum": 0, "type": "quantitative", "scale": {"domain": [-2.205, 7.729], "nice": false, "zero": false},
     "axis": {"orient": "bottom", "offset": -29.8, "values": [0, 1, 2, 3, 4, 5, 6, 7], "labelExpr": "datum.value === 7 ? 'χ (m)' : datum.label", "domain": false, "grid": false, "tickSize": -6, "tickColor": "#222", "tickWidth": 1.3, "labelPadding": 7, "labelFontSize": 21, "labelColor": "#111", "labelOverlap": false, "labelBound": false, "labelFlush": false, "title": null}},
    "x2": {"datum": 7},
    "y": {"datum": 50, "type": "quantitative", "scale": {"domain": [28.66, 210.02], "nice": false, "zero": false}, "axis": null}}},
  {"data": {"values": [{"a": 1}]}, "mark": {"type": "rule", "color": "#222", "strokeWidth": 1.3},
   "encoding": {"x": {"datum": 0, "type": "quantitative", "scale": {"domain": [-2.205, 7.729], "nice": false, "zero": false}, "axis": null},
    "y": {"datum": 50, "type": "quantitative", "scale": {"domain": [28.66, 210.02], "nice": false, "zero": false},
     "axis": {"orient": "left", "offset": -105, "values": [100, 150, 200], "labelExpr": "datum.value % 100 === 0 ? datum.label : ''", "domain": false, "grid": false, "tickSize": 6, "tickColor": "#222", "tickWidth": 1.3, "labelPadding": 1, "labelFontSize": 21, "labelColor": "#111", "labelOverlap": false, "labelBound": false, "labelFlush": false, "title": "Elevation (m)", "titleFontSize": 21, "titleFontWeight": "normal", "titleColor": "#111", "titlePadding": 6, "titleY": 118}},
    "y2": {"datum": 200}}},
  {"data": {"name": "lines5"}, "mark": {"type": "line", "strokeWidth": 1.3},
   "encoding": {"x": {"field": "x", "type": "quantitative", "scale": {"domain": [-2.205, 7.729], "nice": false, "zero": false}, "axis": null},
    "y": {"field": "y", "type": "quantitative", "scale": {"domain": [28.66, 210.02], "nice": false, "zero": false}, "axis": null},
    "color": {"field": "s", "type": "nominal", "scale": {"domain": ["A", "B"], "range": ["#1b1bd2", "#e51c1f"]}, "legend": null}}},
  {"data": {"name": "labels5"}, "mark": {"type": "text", "fontSize": 24, "fontWeight": "bold", "align": "center", "baseline": "middle"},
   "encoding": {"x": {"field": "x", "type": "quantitative", "scale": {"domain": [-2.205, 7.729], "nice": false, "zero": false}, "axis": null},
    "y": {"field": "y", "type": "quantitative", "scale": {"domain": [28.66, 210.02], "nice": false, "zero": false}, "axis": null},
    "text": {"field": "t"},
    "color": {"field": "s", "type": "nominal", "scale": {"domain": ["A", "B"], "range": ["#1b1bd2", "#e51c1f"]}, "legend": null}}}
 ]}
], "spacing": 0, "bounds": "flush"}
]
}
